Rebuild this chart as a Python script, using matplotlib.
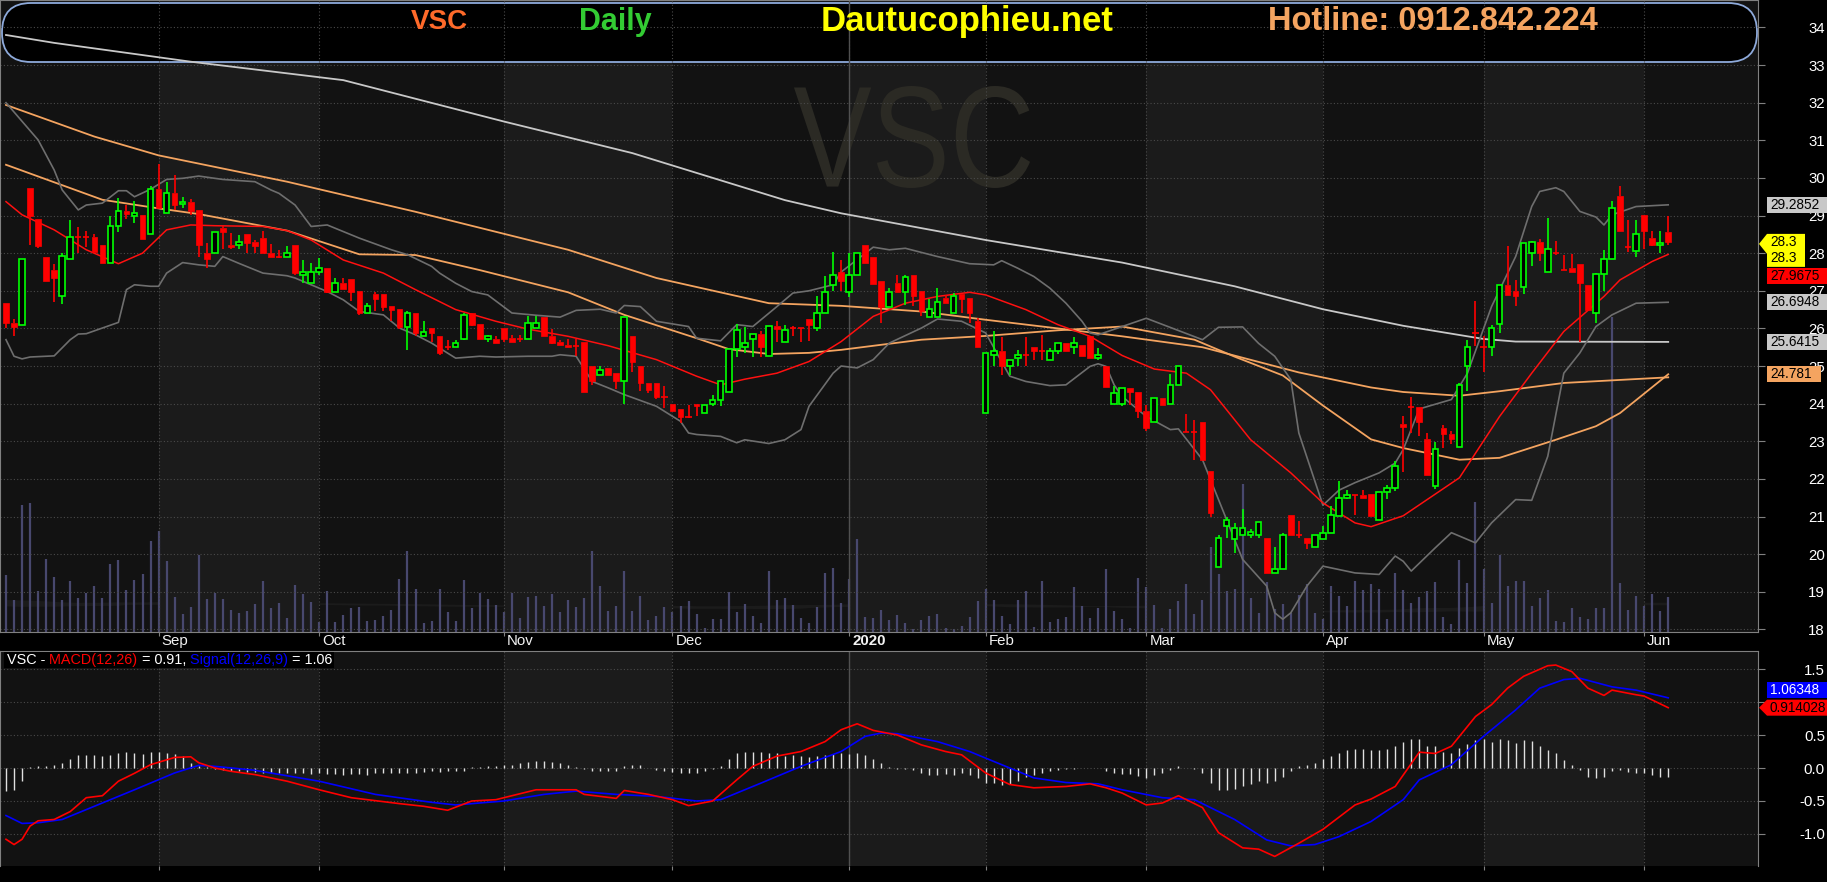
import numpy as np
import pandas as pd
import matplotlib
matplotlib.use("Agg")
import matplotlib.pyplot as plt
from matplotlib.patches import Rectangle, FancyBboxPatch, Polygon, PathPatch
from matplotlib.transforms import IdentityTransform, Affine2D
from matplotlib.textpath import TextPath
from matplotlib.font_manager import FontProperties

plt.rcParams['font.family'] = ['Liberation Sans', 'DejaVu Sans']

W, H = 1827, 882

# ---------------- data ----------------
holidays = ["2019-09-02", "2020-01-01", "2020-01-23", "2020-01-24", "2020-01-27",
            "2020-01-28", "2020-01-29", "2020-04-02", "2020-04-30", "2020-05-01"]
dates = pd.bdate_range("2019-08-06", "2020-06-04")
dates = dates[~dates.isin(pd.to_datetime(holidays))]

opens = [26.67, 26.15, 26.09, 29.73, 28.91, 27.9, 27.56, 26.86, 27.84, 28.42,
         28.42, 28.42, 28.21, 27.73, 28.72, 29.12, 28.99, 29.01, 28.5, 29.7,
         29.06, 29.59, 29.3, 29.35, 29.14, 28.0, 28.0, 28.67, 28.21, 28.21,
         28.5, 28.3, 28.4, 28.0, 27.9, 27.9, 28.21, 27.42, 27.2, 27.5,
         27.6, 26.98, 27.2, 27.31, 27.0, 26.41, 26.92, 26.92, 26.6, 26.52,
         26.05, 26.41, 25.79, 26.0, 25.81, 25.5, 25.5, 25.72, 26.41, 26.12,
         25.72, 25.72, 26.0, 25.75, 25.72, 25.72, 26.0, 26.3, 25.79, 25.63,
         25.56, 25.52, 25.63, 25.0, 24.77, 24.96, 24.82, 24.6, 25.8, 25.0,
         24.55, 24.55, 24.19, 23.99, 23.86, 23.65, 23.99, 23.75, 23.99, 24.1,
         24.3, 25.45, 25.5, 25.72, 25.85, 25.26, 26.07, 25.65, 26.0, 26.0,
         26.25, 26.0, 26.41, 27.16, 27.5, 26.98, 27.42, 28.22, 27.89, 27.27,
         26.58, 27.2, 26.98, 27.42, 27.0, 26.3, 26.3, 26.82, 26.41, 26.92,
         26.8, 26.2, 23.75, 25.29, 25.4, 24.99, 25.21, 25.28, 25.5, 25.39,
         25.15, 25.39, 25.61, 25.5, 25.57, 25.81, 25.21, 25.0, 23.99, 23.99,
         24.42, 24.31, 23.8, 23.51, 24.15, 23.99, 24.49, 23.25, 23.25, 23.51,
         22.22, 19.66, 20.76, 20.41, 20.51, 20.51, 20.51, 20.42, 19.5, 19.61,
         21.03, 20.51, 20.42, 20.19, 20.41, 20.57, 21.01, 21.5, 21.56, 21.56,
         21.61, 20.92, 21.66, 21.76, 23.45, 23.9, 23.9, 23.06, 21.8, 23.35,
         23.19, 22.85, 24.99, 25.89, 25.5, 25.5, 26.12, 27.15, 27.0, 27.1,
         28.0, 28.29, 27.49, 28.0, 27.56, 27.6, 27.72, 27.16, 26.41, 27.44,
         27.84, 29.52, 28.16, 28.06, 29.01, 28.4, 28.21, 28.56]
highs = [26.67, 26.26, 27.84, 29.73, 28.91, 27.9, 27.72, 28.0, 28.88, 28.69,
         28.6, 28.5, 28.21, 28.99, 29.46, 29.27, 29.38, 29.01, 29.79, 30.37,
         29.9, 30.08, 29.49, 29.43, 29.14, 28.27, 28.56, 28.73, 28.53, 28.49,
         28.5, 28.35, 28.6, 28.24, 28.09, 28.19, 28.21, 27.82, 27.73, 27.87,
         27.6, 27.35, 27.35, 27.31, 27.0, 26.67, 26.98, 26.92, 26.6, 26.52,
         26.45, 26.41, 26.19, 26.0, 25.81, 25.7, 25.7, 26.41, 26.41, 26.12,
         25.83, 25.79, 26.0, 25.83, 25.83, 26.34, 26.34, 26.3, 25.98, 25.7,
         25.72, 25.72, 25.63, 25.0, 25.0, 24.96, 24.82, 26.3, 25.8, 25.0,
         24.55, 24.55, 24.46, 23.99, 23.86, 23.97, 23.99, 23.96, 24.24, 24.59,
         25.45, 26.12, 26.04, 25.85, 25.92, 26.07, 26.19, 26.1, 26.07, 26.0,
         26.25, 26.85, 27.4, 28.03, 27.82, 28.0, 28.0, 28.22, 27.89, 27.27,
         27.07, 27.42, 27.42, 27.42, 27.0, 26.78, 27.07, 26.89, 26.94, 26.92,
         26.8, 26.27, 25.35, 25.93, 25.77, 25.15, 25.43, 25.77, 25.5, 25.83,
         25.48, 25.61, 25.61, 25.77, 25.57, 25.81, 25.48, 25.0, 24.48, 24.42,
         24.42, 24.31, 23.97, 24.15, 24.15, 24.8, 24.99, 23.73, 23.57, 23.51,
         22.22, 20.5, 21.0, 20.83, 21.19, 20.67, 20.86, 20.42, 20.19, 20.57,
         21.03, 20.89, 20.42, 20.51, 20.74, 21.29, 21.94, 21.7, 21.56, 21.7,
         21.61, 21.66, 21.85, 22.47, 23.68, 24.18, 23.9, 23.22, 22.99, 23.44,
         23.27, 24.55, 25.7, 26.73, 25.79, 26.1, 27.15, 28.19, 27.29, 28.27,
         28.33, 28.37, 28.93, 28.33, 27.96, 27.97, 27.72, 27.16, 27.47, 28.09,
         29.39, 29.79, 28.88, 28.88, 29.01, 28.6, 28.59, 28.99]
lows = [26.0, 25.81, 26.09, 28.22, 28.15, 27.25, 26.69, 26.64, 27.84, 28.0,
        28.16, 28.02, 27.73, 27.73, 28.55, 28.92, 28.81, 28.38, 28.5, 29.19,
        29.06, 29.15, 29.21, 29.02, 27.91, 27.61, 28.0, 28.12, 28.12, 28.12,
        28.0, 28.0, 28.0, 27.9, 27.86, 27.9, 27.42, 27.22, 27.2, 27.42,
        26.94, 26.98, 27.04, 26.72, 26.36, 26.41, 26.47, 26.47, 26.19, 25.99,
        25.42, 25.79, 25.79, 25.63, 25.3, 25.42, 25.5, 25.68, 26.07, 25.73,
        25.63, 25.6, 25.63, 25.63, 25.65, 25.72, 26.0, 25.79, 25.59, 25.56,
        25.5, 25.26, 24.3, 24.5, 24.77, 24.76, 24.39, 24.0, 24.83, 24.33,
        24.28, 24.12, 23.88, 23.8, 23.49, 23.62, 23.66, 23.75, 23.93, 23.93,
        24.3, 25.24, 25.34, 25.24, 25.24, 25.26, 25.63, 25.65, 25.8, 25.63,
        25.67, 25.92, 26.41, 27.0, 27.0, 26.83, 27.42, 27.73, 27.19, 26.14,
        26.58, 26.98, 26.63, 26.6, 26.32, 26.3, 26.3, 26.68, 26.41, 26.41,
        26.14, 25.5, 23.75, 25.0, 24.77, 24.77, 25.0, 25.0, 25.17, 25.17,
        25.15, 25.33, 25.39, 25.33, 25.27, 25.21, 25.17, 24.43, 23.99, 23.95,
        23.97, 23.62, 23.27, 23.51, 23.97, 23.99, 24.49, 23.25, 22.51, 22.5,
        20.98, 19.66, 20.43, 20.04, 20.51, 20.43, 20.43, 19.5, 19.5, 19.61,
        20.51, 20.42, 20.14, 20.19, 20.41, 20.57, 21.01, 21.47, 21.05, 21.5,
        21.01, 20.92, 21.47, 21.67, 22.18, 23.22, 23.13, 22.1, 21.73, 22.82,
        22.94, 22.85, 24.33, 25.52, 24.83, 25.27, 25.88, 26.89, 26.6, 26.92,
        27.66, 27.78, 27.49, 27.96, 27.54, 27.49, 25.63, 26.5, 26.14, 27.0,
        27.84, 28.6, 28.04, 27.91, 28.12, 28.18, 28.0, 28.22]
closes = [26.14, 26.04, 27.84, 29.0, 28.2, 27.25, 27.35, 27.93, 28.42, 28.42,
          28.42, 28.02, 27.73, 28.72, 29.12, 29.05, 29.06, 28.38, 29.7, 29.19,
          29.59, 29.29, 29.36, 29.13, 28.21, 27.84, 28.56, 28.55, 28.16, 28.29,
          28.28, 28.2, 28.0, 27.9, 27.9, 28.0, 27.47, 27.5, 27.5, 27.6,
          26.98, 27.2, 27.04, 26.98, 26.41, 26.6, 26.79, 26.58, 26.5, 26.04,
          26.41, 25.88, 25.9, 25.89, 25.35, 25.5, 25.61, 26.35, 26.1, 25.73,
          25.8, 25.6, 25.72, 25.65, 25.72, 26.14, 26.14, 25.79, 25.61, 25.56,
          25.5, 25.52, 24.3, 24.59, 24.9, 24.76, 24.59, 26.3, 25.1, 24.55,
          24.35, 24.19, 24.19, 23.8, 23.64, 23.65, 23.95, 23.96, 24.1, 24.59,
          25.45, 25.96, 25.61, 25.85, 25.5, 26.07, 25.99, 25.95, 26.0, 26.0,
          26.1, 26.41, 26.98, 27.42, 27.25, 27.42, 28.0, 27.73, 27.19, 26.58,
          26.98, 26.98, 27.36, 26.85, 26.45, 26.51, 26.7, 26.68, 26.87, 26.79,
          26.41, 25.5, 25.35, 25.4, 24.99, 25.15, 25.28, 25.28, 25.39, 25.39,
          25.39, 25.61, 25.39, 25.61, 25.27, 25.21, 25.28, 24.43, 24.27, 24.42,
          24.31, 23.8, 23.35, 24.15, 23.97, 24.49, 24.99, 23.25, 23.25, 22.5,
          21.1, 20.42, 20.92, 20.7, 20.7, 20.59, 20.86, 19.5, 19.61, 20.51,
          20.51, 20.51, 20.3, 20.51, 20.57, 21.03, 21.5, 21.56, 21.56, 21.5,
          21.01, 21.66, 21.76, 22.34, 23.38, 23.9, 23.5, 22.1, 22.8, 23.19,
          23.06, 24.49, 25.5, 25.89, 25.5, 26.0, 27.15, 26.89, 26.85, 28.27,
          28.29, 28.0, 28.11, 28.0, 27.56, 27.49, 27.2, 26.5, 27.44, 27.84,
          29.19, 28.6, 28.16, 28.5, 28.6, 28.21, 28.26, 28.3]
volume_k = [57, 32, 127, 129, 41, 73, 55, 32, 51, 34,
            39, 46, 34, 68, 72, 42, 52, 58, 91, 101,
            71, 35, 18, 25, 77, 33, 39, 33, 22, 19,
            21, 28, 51, 24, 29, 14, 47, 38, 30, 10,
            41, 10, 17, 24, 25, 11, 12, 16, 22, 53,
            81, 43, 9, 11, 43, 20, 11, 52, 24, 39,
            33, 27, 20, 39, 14, 35, 36, 26, 38, 20,
            32, 25, 34, 81, 46, 21, 26, 61, 21, 36,
            12, 16, 25, 20, 26, 31, 18, 4, 13, 13,
            40, 20, 28, 16, 9, 61, 32, 34, 27, 14,
            9, 25, 59, 64, 29, 53, 93, 15, 14, 22,
            12, 17, 9, 3, 12, 16, 18, 4, 3, 6,
            15, 31, 43, 32, 16, 8, 32, 41, 5, 51,
            10, 13, 15, 45, 26, 14, 24, 63, 21, 13,
            4, 54, 45, 27, 4, 23, 31, 48, 18, 32,
            85, 58, 41, 43, 148, 34, 19, 50, 23, 28,
            19, 37, 48, 19, 13, 46, 36, 26, 51, 42,
            48, 43, 13, 59, 42, 29, 35, 41, 50, 15,
            8, 72, 49, 130, 63, 29, 77, 46, 51, 51,
            26, 34, 42, 11, 10, 24, 15, 13, 24, 24,
            315, 49, 22, 36, 26, 38, 21, 35]

# indicator lines at bar numbers
ma200_bar = [0, 6, 23, 42, 62, 78, 97, 104, 122, 139, 153, 164, 174, 184, 188, 207]
ma200_val = [33.8, 33.59, 33.09, 32.6, 31.5, 30.66, 29.41, 29.06, 28.35, 27.75, 27.12,
             26.51, 26.07, 25.72, 25.65, 25.6415]
ma100_bar = [0, 11, 19, 35, 51, 70, 81, 95, 104, 114, 122, 131, 139, 149, 161, 170,
             174, 181, 186, 194, 207]
ma100_val = [31.94, 31.1, 30.6, 29.9, 29.1, 28.09, 27.34, 26.67, 26.6, 26.45, 26.23,
             26.0, 25.79, 25.5, 24.83, 24.43, 24.31, 24.21, 24.33, 24.55, 24.7]
ma50_bar = [0, 8, 12, 19, 24, 35, 44, 51, 59, 70, 77, 86, 90, 95, 100, 104, 114, 122,
            131, 139, 148, 153, 159, 164, 170, 174, 181, 186, 193, 198, 201, 207]
ma50_val = [30.35, 29.73, 29.42, 29.19, 29.04, 28.6, 27.97, 27.95, 27.55, 26.96, 26.36,
            25.74, 25.45, 25.32, 25.35, 25.43, 25.7, 25.8, 25.95, 26.05, 25.7, 25.25,
            24.75, 23.95, 23.05, 22.82, 22.51, 22.56, 23.04, 23.4, 23.75, 24.781]
ma20_bar = [0, 2, 6, 10, 14, 17, 20, 23, 26, 32, 35, 38, 42, 47, 51, 56, 61, 65, 70,
            75, 81, 86, 89, 92, 96, 100, 104, 108, 112, 116, 120, 122, 127, 131, 135,
            139, 143, 147, 150, 155, 160, 164, 168, 170, 174, 181, 186, 190, 194, 199,
            201, 205, 207]
ma20_val = [29.37, 29.02, 28.62, 28.09, 27.72, 28.0, 28.62, 28.75, 28.73, 28.71, 28.6,
            28.35, 27.82, 27.47, 27.03, 26.5, 26.19, 25.98, 25.79, 25.54, 25.17, 24.73,
            24.5, 24.65, 24.81, 25.12, 25.65, 26.32, 26.67, 26.85, 26.96, 26.89, 26.5,
            26.1, 25.79, 25.28, 24.92, 24.81, 24.37, 23.04, 22.16, 21.36, 20.83, 20.73,
            21.02, 22.03, 23.66, 24.81, 25.92, 26.85, 27.29, 27.78, 27.9675]
bb_up_bar = [0, 4, 6, 7, 9, 10, 12, 14, 15, 16, 18, 20, 22, 24, 27, 31, 33, 34, 36,
             38, 40, 44, 48, 50, 53, 54, 56, 58, 60, 63, 66, 69, 71, 74, 76, 77, 79,
             81, 85, 86, 89, 91, 93, 96, 98, 100, 103, 104, 108, 110, 112, 116, 120,
             123, 124, 126, 128, 130, 132, 134, 135, 136, 139, 142, 149, 151, 154, 156,
             158, 160, 161, 164, 166, 168, 171, 173, 174, 176, 180, 182, 185, 188, 190,
             191, 193, 194, 196, 198, 199, 200, 203, 207]
bb_up_val = [32.0, 31.01, 30.21, 29.68, 29.15, 29.28, 29.33, 29.66, 29.66, 29.5, 29.7,
             29.96, 29.99, 30.05, 29.96, 29.9, 29.68, 29.59, 29.28, 28.71, 28.75, 28.4,
             28.09, 27.96, 27.65, 27.47, 27.2, 26.98, 26.89, 26.41, 26.35, 26.3, 26.48,
             26.51, 26.41, 26.61, 26.58, 26.19, 26.05, 25.74, 25.67, 26.1, 26.05, 26.58,
             26.94, 27.0, 27.16, 27.5, 28.16, 28.09, 28.13, 27.91, 27.72, 27.69, 27.8,
             27.6, 27.38, 27.07, 26.67, 26.19, 25.88, 25.83, 26.05, 26.27, 25.7, 26.03,
             26.04, 25.6, 25.26, 24.64, 23.22, 21.3, 21.7, 21.9, 22.16, 22.42, 22.78,
             23.86, 24.11, 24.81, 26.58, 27.91, 29.24, 29.64, 29.74, 29.64, 29.11, 28.96,
             28.75, 29.02, 29.24, 29.2852]
bb_lo_bar = [0, 1, 2, 3, 6, 8, 9, 10, 12, 14, 15, 16, 18, 19, 20, 22, 24, 26, 27, 29,
             32, 35, 36, 38, 40, 42, 44, 47, 49, 51, 53, 56, 59, 61, 65, 68, 69, 71, 73,
             75, 77, 81, 84, 85, 86, 89, 91, 92, 95, 97, 99, 100, 103, 104, 106, 108,
             110, 114, 116, 119, 122, 125, 127, 130, 132, 135, 136, 137, 138, 139, 142,
             145, 146, 149, 151, 154, 157, 158, 159, 160, 162, 164, 168, 171, 173, 174,
             175, 178, 180, 183, 185, 188, 190, 192, 194, 196, 198, 200, 203, 207]
bb_lo_val = [25.7, 25.26, 25.19, 25.24, 25.27, 25.7, 25.85, 25.86, 26.01, 26.16, 27.03,
             27.16, 27.12, 27.12, 27.47, 27.75, 27.69, 27.65, 27.91, 27.73, 27.47, 27.4,
             27.34, 27.16, 26.98, 26.76, 26.45, 26.36, 26.01, 25.83, 25.61, 25.21, 25.26,
             25.24, 25.26, 25.26, 25.3, 25.26, 24.59, 24.42, 24.24, 23.93, 23.53, 23.22,
             23.18, 23.13, 22.96, 23.04, 22.94, 23.04, 23.31, 23.93, 24.81, 25.0, 24.95,
             25.17, 25.61, 26.01, 26.25, 26.19, 25.88, 24.73, 24.59, 24.48, 24.5, 24.99,
             25.06, 24.99, 24.5, 24.19, 23.66, 23.31, 23.33, 22.51, 21.45, 19.86, 19.15,
             18.44, 18.27, 18.44, 19.15, 19.68, 19.5, 19.46, 19.95, 19.81, 19.55, 20.17,
             20.57, 20.3, 20.83, 21.45, 21.43, 22.6, 24.81, 25.35, 26.05, 26.36, 26.67,
             26.6948]

macd_bar = [0, 1, 2, 3, 4, 6, 8, 10, 12, 14, 16, 18, 21, 23, 24, 26, 28, 31, 35, 39,
            43, 49, 52, 55, 58, 61, 66, 71, 72, 76, 77, 80, 83, 85, 88, 91, 93, 96, 99,
            102, 104, 106, 108, 111, 114, 117, 119, 122, 125, 128, 132, 135, 137, 139,
            142, 144, 146, 149, 151, 154, 156, 158, 161, 164, 168, 170, 173, 176, 178,
            180, 183, 185, 187, 189, 192, 193, 195, 197, 199, 200, 203, 204, 207]
macd_val = [-1.08, -1.16, -1.08, -0.88, -0.8, -0.78, -0.66, -0.45, -0.42, -0.2, -0.08,
            0.05, 0.16, 0.17, 0.08, 0.0, -0.05, -0.1, -0.2, -0.33, -0.45, -0.54, -0.58,
            -0.64, -0.5, -0.48, -0.33, -0.33, -0.4, -0.46, -0.34, -0.4, -0.48, -0.57,
            -0.5, -0.18, 0.025, 0.18, 0.25, 0.4, 0.58, 0.67, 0.57, 0.5, 0.35, 0.25, 0.2,
            -0.075, -0.25, -0.3, -0.28, -0.24, -0.3, -0.38, -0.56, -0.53, -0.42, -0.6,
            -0.98, -1.21, -1.23, -1.34, -1.14, -0.93, -0.56, -0.47, -0.28, 0.24, 0.22,
            0.33, 0.78, 0.96, 1.21, 1.39, 1.55, 1.56, 1.46, 1.21, 1.1, 1.18, 1.11, 1.09,
            0.914028]
signal_bar = [0, 2, 4, 7, 11, 16, 21, 24, 26, 31, 39, 46, 53, 56, 62, 67, 71, 76, 81,
              86, 89, 94, 99, 104, 107, 109, 111, 116, 120, 125, 128, 132, 136, 139, 144,
              148, 153, 157, 160, 163, 166, 170, 174, 176, 180, 184, 188, 191, 194, 196,
              200, 203, 207]
signal_val = [-0.72, -0.84, -0.83, -0.78, -0.58, -0.33, -0.075, 0.04, 0.025, -0.035,
              -0.2, -0.4, -0.52, -0.56, -0.5, -0.4, -0.35, -0.4, -0.43, -0.5, -0.48,
              -0.23, 0.025, 0.25, 0.48, 0.53, 0.52, 0.4, 0.25, 0.0, -0.15, -0.22, -0.24,
              -0.33, -0.45, -0.48, -0.78, -1.09, -1.18, -1.16, -1.04, -0.81, -0.48,
              -0.18, 0.05, 0.48, 0.88, 1.21, 1.34, 1.36, 1.23, 1.18, 1.06348]
hist = [-0.35, -0.34, -0.2, 0.01, 0.035, 0.035, 0.04, 0.08, 0.14, 0.2,
        0.2, 0.2, 0.18, 0.2, 0.23, 0.25, 0.23, 0.21, 0.25, 0.24,
        0.23, 0.21, 0.18, 0.08, 0.025, 0.01, -0.02, -0.03, -0.05, -0.05,
        -0.06, -0.06, -0.07, -0.07, -0.07, -0.08, -0.08, -0.08, -0.09, -0.08,
        -0.09, -0.09, -0.1, -0.09, -0.09, -0.1, -0.08, -0.08, -0.07, -0.07,
        -0.07, -0.07, -0.06, -0.05, -0.06, -0.05, -0.05, -0.04, 0.01, 0.02,
        0.03, 0.03, 0.04, 0.05, 0.07, 0.09, 0.11, 0.1, 0.09, 0.07,
        0.05, 0.02, -0.02, -0.04, -0.05, -0.05, -0.04, 0.03, 0.05, 0.04,
        0.0, -0.03, -0.04, -0.06, -0.07, -0.08, -0.07, -0.05, -0.01, 0.03,
        0.13, 0.22, 0.25, 0.25, 0.25, 0.23, 0.22, 0.18, 0.19, 0.18,
        0.17, 0.18, 0.19, 0.21, 0.22, 0.21, 0.22, 0.2, 0.13, 0.07,
        0.02, -0.01, -0.02, -0.035, -0.075, -0.1, -0.1, -0.09, -0.1, -0.075,
        -0.1, -0.15, -0.22, -0.23, -0.25, -0.24, -0.2, -0.13, -0.1, -0.075,
        -0.05, -0.025, -0.015, -0.01, -0.005, 0.0, 0.0, -0.05, -0.075, -0.085,
        -0.085, -0.115, -0.15, -0.1, -0.075, -0.035, 0.025, 0.0, -0.015, -0.075,
        -0.22, -0.33, -0.33, -0.32, -0.28, -0.24, -0.2, -0.22, -0.2, -0.13,
        -0.05, 0.025, 0.04, 0.075, 0.14, 0.18, 0.23, 0.28, 0.29, 0.29,
        0.28, 0.28, 0.29, 0.33, 0.39, 0.44, 0.44, 0.33, 0.33, 0.24,
        0.23, 0.3, 0.36, 0.43, 0.44, 0.4, 0.44, 0.42, 0.38, 0.42,
        0.41, 0.34, 0.28, 0.23, 0.12, 0.04, -0.025, -0.13, -0.15, -0.13,
        -0.045, -0.025, -0.06, -0.075, -0.075, -0.11, -0.14, -0.14]

n = len(closes)
x = np.arange(n)
o, h, l, c = (np.array(a) for a in (opens, highs, lows, closes))

month_idx = [i for i in range(1, n) if dates[i].month != dates[i - 1].month]
month_lbl = ['2020' if dates[i].month == 1 else dates[i].strftime('%b') for i in month_idx]

# ---------------- layout ----------------
fig = plt.figure(figsize=(W / 100, H / 100), dpi=100, facecolor='black')
rect_main = [0, 1 - 632 / H, 1758 / W, 632 / H]
ax_vol = fig.add_axes(rect_main)
ax = fig.add_axes(rect_main)
axm = fig.add_axes([0, 1 - 866 / H, 1758 / W, 215 / H])
xlim = (-6 / 8.03, 1752 / 8.03)
DARK, LIGHT = '#121212', '#1b1b1b'
GRID = '#4a4a4a'

bounds = [xlim[0]] + month_idx + [xlim[1]]
for a in (ax_vol, axm):
    for k in range(len(bounds) - 1):
        a.axvspan(bounds[k], bounds[k + 1], color=DARK if k % 2 == 0 else LIGHT,
                  lw=0, zorder=0.1)

# bollinger band fill
ax_vol.fill(np.concatenate([bb_up_bar, bb_lo_bar[::-1]]),
            np.concatenate([bb_up_val, bb_lo_val[::-1]]),
            color=LIGHT, lw=0, zorder=0.2)

# header box
hdr = FancyBboxPatch((2, H - 62), 1755, 59, boxstyle='round,pad=0,rounding_size=29',
                     transform=IdentityTransform(), facecolor='black',
                     edgecolor='#8eaadb', lw=1.3, zorder=0.3)
ax_vol.add_patch(hdr)

# watermark
tp = TextPath((0, 0), 'VSC', size=100, prop=FontProperties(family='Liberation Sans'))
bb = tp.get_extents()
tr = Affine2D().translate(-bb.x0, -bb.y0).scale(236 / bb.width, 102 / bb.height) \
    .translate(794, H - 188)
ax_vol.add_patch(PathPatch(tp, transform=tr, facecolor='#2b2a24', edgecolor='none',
                           zorder=0.4))

# volume
ax_vol.vlines(x, 0, volume_k, colors='#48486e', lw=1.6, zorder=0.5)
ax_vol.set_xlim(xlim)
ax_vol.set_ylim(0, 632)
ax_vol.set_axis_off()

# price panel
ax.patch.set_visible(False)
ax.plot(ma200_bar, ma200_val, color='#c8c8c8', lw=1.3, zorder=3)
ax.plot(ma100_bar, ma100_val, color='#f4a460', lw=1.3, zorder=3)
ax.plot(ma50_bar, ma50_val, color='#f4a460', lw=1.3, zorder=3)
ax.plot(bb_up_bar, bb_up_val, color='#6e6e6e', lw=1.2, zorder=3)
ax.plot(bb_lo_bar, bb_lo_val, color='#6e6e6e', lw=1.2, zorder=3)
ax.plot(ma20_bar, ma20_val, color='#ff1010', lw=1.1, zorder=3.5)

up = c > o
doji = np.abs(c - o) < 0.015
lo_b, hi_b = np.minimum(o, c), np.maximum(o, c)
col = np.where(up, '#00ff00', '#ff0000')
ax.vlines(x, hi_b, h, colors=col, lw=1.2, zorder=5)
ax.vlines(x, l, lo_b, colors=col, lw=1.2, zorder=5)
m = ~doji & up
ax.bar(x[m], (hi_b - lo_b)[m], bottom=lo_b[m], width=0.7, facecolor='black',
       edgecolor='#00ff00', lw=1.2, zorder=6)
m = ~doji & ~up
ax.bar(x[m], (hi_b - lo_b)[m], bottom=lo_b[m], width=0.7, facecolor='#ff0000',
       edgecolor='#ff0000', lw=0.5, zorder=6)
ax.hlines(c[doji], x[doji] - 0.38, x[doji] + 0.38, colors=col[doji], lw=1.2, zorder=6)

ax.set_xlim(xlim)
ax.set_ylim(17.93, 34.73)

# macd panel
axm.vlines(x, 0, hist, colors='#e0e0e0', lw=1.0, zorder=3)
axm.plot(signal_bar, signal_val, color='#0000ff', lw=1.2, zorder=4)
axm.plot(macd_bar, macd_val, color='#ff0000', lw=1.2, zorder=4)
axm.set_xlim(xlim)
axm.set_ylim(-1.485, 1.773)

# the 1.0 label sits fully under the MACD value tags, as in the original
price_ticks = list(range(18, 35))
price_lbls = [str(t) for t in price_ticks]
macd_ticks = [-1.0, -0.5, 0.0, 0.5, 1.0, 1.5]
macd_lbls = ['-1.0', '-0.5', '0.0', '0.5', '', '1.5']
for a, ticks, lbls in ((ax, price_ticks, price_lbls), (axm, macd_ticks, macd_lbls)):
    a.set_xticks(month_idx)
    a.set_xticklabels([])
    a.set_yticks(ticks)
    a.set_yticklabels(lbls)
    a.yaxis.tick_right()
    a.tick_params(axis='y', length=5, color='#808080', labelcolor='white',
                  labelsize=10.8, pad=43.2)
    a.tick_params(axis='x', length=3, color='#808080', direction='out')
    for lab in a.get_yticklabels():
        lab.set_ha('right')
    a.grid(True, ls=(0, (1, 2)), color=GRID, lw=0.8)
    a.set_axisbelow(True)
    a.axvline(month_idx[month_lbl.index('2020')], color='#505050', lw=1.0, zorder=0.6)
    for s in a.spines.values():
        s.set_color('#808080')
axm.spines['bottom'].set_visible(False)

# date strip labels
for i, lab in zip(month_idx, month_lbl):
    px = ax.transData.transform((i, 0))[0] + 3
    fig.text(px, H - 641, lab, transform=IdentityTransform(), color='#f2f2f2',
             fontsize=10.8, va='center', ha='left',
             fontweight='bold' if lab == '2020' else 'normal')

# header texts
for s, xc, col_, fs in (('VSC', 439, '#ff6a2a', 20), ('Daily', 615, '#33cc33', 22),
                        ('Dautucophieu.net', 967, '#ffff00', 25),
                        ('Hotline: 0912.842.224', 1433, '#f4a460', 23.5)):
    fig.text(xc, H - 22, s, transform=IdentityTransform(), color=col_, fontsize=fs,
             fontweight='bold', ha='center', va='center')

# macd title
renderer = fig.canvas.get_renderer()
pieces = [('VSC -', 'white'), (' MACD(12,26)', '#ff0000'), (' = 0.91,', 'white'),
          (' Signal(12,26,9)', '#0000ff'), (' = 1.06', 'white')]
tx = 7
for s, cc in pieces:
    t = fig.text(tx, H - 660, s, transform=IdentityTransform(), color=cc, fontsize=10.4,
                 va='center', ha='left', zorder=11)
    tx = t.get_window_extent(renderer).x1
fig.add_artist(Rectangle((4, H - 668), tx - 2, 16, transform=IdentityTransform(),
                         facecolor='black', edgecolor='none', zorder=10))


# value tags on the right scale
def tag(axis, value, label, face, fg, dy=0, x1=1827, arrow=False, hh=16):
    yc = axis.transData.transform((0, value))[1] + dy
    x0 = 1767
    pts = [(x0, yc - hh / 2), (x1, yc - hh / 2), (x1, yc + hh / 2), (x0, yc + hh / 2)]
    if arrow:
        pts = [(x0, yc + hh / 2), (x0 - 8, yc), (x0, yc - hh / 2),
               (x1, yc - hh / 2), (x1, yc + hh / 2)]
    fig.add_artist(Polygon(pts, closed=True, transform=IdentityTransform(),
                           facecolor=face, edgecolor='none', zorder=10))
    fig.text(x0 + 3, yc, label, transform=IdentityTransform(), color=fg, fontsize=9.8,
             va='center', ha='left', zorder=11)
    return yc


def fmt(v):
    return ('%.6f' % v).rstrip('0').rstrip('.')


tag(ax, bb_up_val[-1], fmt(bb_up_val[-1]), '#c8c8c8', 'black')
yc = ax.transData.transform((0, closes[-1]))[1]
fig.add_artist(Polygon([(1767, yc + 8), (1805, yc + 8), (1805, yc - 25), (1767, yc - 25),
                        (1767, yc - 12), (1759, yc - 2)], closed=True,
                       transform=IdentityTransform(), facecolor='#ffff00',
                       edgecolor='none', zorder=10))
for dd in (0, -16):
    fig.text(1770, yc + dd, fmt(closes[-1]), transform=IdentityTransform(), color='black',
             fontsize=9.8, va='center', ha='left', zorder=11)
ma20_y = ax.transData.transform((0, ma20_val[-1]))[1]
tag(ax, ma20_val[-1], fmt(ma20_val[-1]), '#ff0000', 'black', dy=(yc - 34) - ma20_y)
tag(ax, bb_lo_val[-1], fmt(bb_lo_val[-1]), '#c8c8c8', 'black')
tag(ax, ma200_val[-1], fmt(ma200_val[-1]), '#c8c8c8', 'black')
tag(ax, ma50_val[-1], fmt(ma50_val[-1]), '#f4a460', 'black', x1=1821)

ym = tag(axm, macd_val[-1], fmt(macd_val[-1]), '#ff0000', 'black', arrow=True)
sig_y = axm.transData.transform((0, signal_val[-1]))[1]
tag(axm, signal_val[-1], fmt(signal_val[-1]), '#0000ff', 'white',
    dy=max(0, (ym + 17.5) - sig_y))

fig.savefig('out.png', dpi=100, facecolor='black')
